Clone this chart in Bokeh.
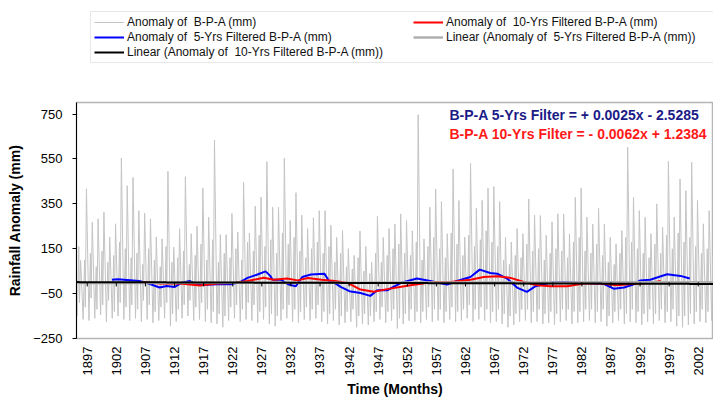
import math
from bokeh.plotting import figure
from bokeh.layouts import column
from bokeh.models import Legend, LegendItem, Label, FixedTicker, Range1d
from bokeh.embed import file_html
from bokeh.resources import INLINE

# ---------------- data ----------------
years = list(range(1897, 2007))
peak_mm = [98, 417, 268, 283, 313, 202, 261, 554, 431, 468,
           320, 308, 283, 202, 194, 495, 157, 239, 471, 217,
           250, 421, 290, 634, 213, 213, 307, 224, 446, 220,
           340, 380, 538, 335, 335, 553, 276, 400, 300, 240,
           288, 320, 320, 255, 200, 231, 150, 120, 229, 160,
           90, 294, 200, 240, 260, 305, 276, 230, 747, 194,
           335, 416, 360, 217, 505, 365, 202, 530, 330, 365,
           420, 427, 360, 200, 180, 240, 217, 372, 300, 298,
           210, 270, 306, 305, 217, 379, 421, 291, 260, 330,
           260, 200, 172, 231, 602, 379, 320, 290, 217, 350,
           246, 539, 291, 461, 409, 535, 365, 261, 320, 250]
second_mm = [160, 100, 130, 70, 140, 90, 120, 180, 150, 110,
             130, 80, 150, 100, 70, 160, 90, 110, 140, 80,
             120, 170, 100, 190, 90, 130, 110, 150, 100, 180,
             140, 210, 160, 190, 130, 220, 170, 200, 140, 110,
             150, 180, 130, 160, 90, 130, 70, 60, 110, 50,
             40, 130, 90, 120, 150, 170, 130, 120, 180, 100,
             160, 200, 150, 110, 220, 170, 120, 210, 160, 190,
             230, 180, 160, 100, 80, 120, 110, 170, 140, 150,
             100, 130, 150, 140, 110, 180, 200, 140, 130, 170,
             120, 90, 80, 130, 200, 180, 150, 130, 110, 170,
             130, 210, 150, 220, 180, 200, 160, 130, 150, 120]
trough_mm = [-150, -165, -170, -160, -145, -175, -160, -150, -165, -170,
             -160, -175, -165, -180, -170, -160, -195, -175, -160, -150,
             -170, -165, -175, -180, -185, -200, -170, -160, -175, -165,
             -170, -180, -165, -185, -195, -170, -160, -175, -180, -165,
             -170, -160, -175, -185, -170, -190, -180, -175, -200, -185,
             -190, -175, -165, -180, -170, -205, -185, -170, -175, -180,
             -165, -175, -170, -180, -165, -175, -170, -160, -175, -165,
             -170, -180, -175, -185, -200, -190, -175, -170, -180, -175,
             -185, -180, -190, -175, -170, -185, -180, -175, -170, -180,
             -175, -195, -180, -170, -185, -175, -180, -190, -175, -185,
             -170, -180, -175, -195, -200, -190, -185, -175, -180, -170]
dip_mm = [-90, -110, -70, -120, -100, -80, -130, -90, -110, -100,
          -120, -80, -100, -130, -110, -90, -140, -120, -100, -80,
          -110, -90, -120, -130, -140, -150, -110, -100, -120, -90,
          -100, -130, -110, -140, -150, -120, -100, -120, -130, -110,
          -120, -100, -130, -140, -120, -150, -130, -120, -150, -140,
          -150, -130, -110, -130, -120, -160, -140, -120, -130, -130,
          -110, -120, -120, -130, -110, -130, -120, -100, -120, -110,
          -120, -130, -120, -140, -150, -140, -120, -120, -130, -120,
          -140, -130, -140, -120, -120, -130, -130, -120, -120, -130,
          -120, -150, -130, -120, -140, -120, -130, -140, -120, -140,
          -120, -130, -120, -150, -150, -140, -130, -120, -130, -120]

blue_year = [1903.0, 1904.0, 1907.7, 1908.9, 1911.2, 1912.4, 1913.8, 1915.0, 1916.4, 1917.6,
             1919.3, 1921.1, 1923.4, 1925.1, 1926.3, 1928.0, 1929.4, 1930.2, 1930.6, 1932.0,
             1933.4, 1934.6, 1935.7, 1937.2, 1939.5, 1940.3, 1941.2, 1942.3, 1943.8, 1945.7,
             1947.4, 1948.6, 1950.3, 1952.6, 1955.4, 1957.7, 1960.6, 1962.3, 1964.6, 1966.2,
             1968.0, 1969.2, 1970.9, 1972.6, 1974.3, 1975.8, 1978.4, 1980.6, 1984.1, 1987.5,
             1989.2, 1991.0, 1992.7, 1993.8, 1995.5, 1998.4, 2000.7, 2002.3]
blue_val = [12, 14, 6, -2, -23, -16, -20, -1, 6, -8,
            -10, -8, -8, 2, 20, 35, 49, 29, 12, 12,
            -10, -17, 24, 35, 39, 6, -1, -20, -39, -47,
            -60, -35, -35, -3, 17, 6, -10, 6, 24, 57,
            42, 39, 17, -23, -42, -17, -1, 2, -3, -6,
            -28, -23, -8, 9, 12, 36, 29, 17]

red_year = [1908.3, 1911.2, 1914.7, 1918.1, 1921.1, 1923.9, 1926.3, 1929.1, 1930.8, 1933.1,
            1934.9, 1936.7, 1939.0, 1941.3, 1943.6, 1945.7, 1948.0, 1950.3, 1954.3, 1958.3,
            1961.2, 1964.6, 1966.9, 1969.2, 1971.5, 1973.8, 1976.1, 1978.4, 1981.2, 1984.1,
            1986.9, 1989.8, 1993.2, 1995.5, 1997.3]
red_val = [2, -5, -5, -14, -5, -3, 6, 21, 12, 17,
           9, 20, 12, 6, -3, -32, -42, -30, -13, 2,
           2, 12, 24, 27, 20, 2, -13, -17, -17, -5,
           -5, -13, -5, -3, 6]

# trend-line coefficients (from the equations printed on the chart)
slope5, icpt5 = 0.0025, -2.5285
slope10, icpt10 = -0.0062, 1.2384
n_months = 1320

tick_labels = list(range(1897, 2003, 5))
TICK_SHIFT = 1.75          # category-axis labels/ticks sit this far right of the data start
y_ticks = [-250, -50, 150, 350, 550, 750]

# ---------------- series construction ----------------
gx, gy = [], []
for yr, lo, sec, dip, hi in zip(years, trough_mm, second_mm, dip_mm, peak_mm):
    gx += [yr + 0.05, yr + 0.3, yr + 0.42, yr + 0.62]
    gy += [lo, sec, dip, hi]

months = list(range(1, n_months + 1))
mx = [1897 + (m - 1) / 12 for m in months]
t5 = [slope5 * m + icpt5 for m in months]
t10 = [slope10 * m + icpt10 for m in months]

tick_pos = [t + TICK_SHIFT for t in tick_labels]

FONT = "Liberation Sans"
C_GRAY, C_BLUE, C_RED, C_TREND5, C_BLACK = "#c4c4c4", "#0000ff", "#ff0000", "#b0b0b0", "#000000"

p = figure(width=713, height=302, output_backend="svg", toolbar_location=None,
           x_range=Range1d(1896.91, 2006.37), y_range=Range1d(-250, 801.6),
           min_border_left=76, min_border_right=0, min_border_top=4, min_border_bottom=62,
           background_fill_color="white", border_fill_color="white")
p.xgrid.visible = False
p.ygrid.visible = False
p.outline_line_color = "#b5b5b5"
p.outline_line_width = 1.5

p.line(gx, gy, line_color=C_GRAY, line_width=1)
p.line(blue_year, blue_val, line_color=C_BLUE, line_width=2)
p.line(red_year, red_val, line_color=C_RED, line_width=2)
p.line(mx, t5, line_color=C_TREND5, line_width=2.5)
p.line(mx, t10, line_color=C_BLACK, line_width=2)

# category-axis tick marks that sit on the zero line
p.segment(x0=tick_pos, x1=tick_pos,
          y0=[0] * len(tick_pos), y1=[-18] * len(tick_pos),
          line_color="black", line_width=1)

# axes
yax = p.yaxis[0]
yax.ticker = FixedTicker(ticks=y_ticks, minor_ticks=[])
yax.axis_line_color = "black"
yax.major_tick_out = 4
yax.major_tick_in = 0
yax.major_tick_line_color = "black"
yax.major_label_standoff = 10
yax.major_label_text_font = FONT
yax.major_label_text_font_size = "13px"
yax.major_label_text_color = "black"
yax.axis_label = "Rainfall Anomaly (mm)"
yax.axis_label_text_font = FONT
yax.axis_label_text_font_size = "14px"
yax.axis_label_text_font_style = "bold"
yax.axis_label_text_color = "black"
yax.axis_label_standoff = 7

xax = p.xaxis[0]
xax.ticker = FixedTicker(ticks=tick_pos, minor_ticks=[])
xax.major_label_overrides = {tp: str(t) for tp, t in zip(tick_pos, tick_labels)}
xax.axis_line_color = None
xax.major_tick_out = 0
xax.major_tick_in = 0
xax.major_label_orientation = math.pi / 2
xax.major_label_standoff = 8
xax.major_label_text_font = FONT
xax.major_label_text_font_size = "13px"
xax.major_label_text_color = "black"
xax.axis_label = "Time (Months)"
xax.axis_label_text_font = FONT
xax.axis_label_text_font_size = "14px"
xax.axis_label_text_font_style = "bold"
xax.axis_label_text_color = "black"
xax.axis_label_standoff = 3

# equations
p.add_layout(Label(x=1961.0, y=747, text="B-P-A  5-Yrs Filter = + 0.0025x - 2.5285",
                   text_font=FONT, text_font_size="14px", text_font_style="bold",
                   text_color="#1b1b87", text_baseline="middle"))
p.add_layout(Label(x=1961.0, y=662, text="B-P-A   10-Yrs Filter = - 0.0062x + 1.2384",
                   text_font=FONT, text_font_size="14px", text_font_style="bold",
                   text_color="#ff1a1a", text_baseline="middle"))

# ---------------- legend strip above the chart ----------------
lg = figure(width=713, height=98, output_backend="svg", toolbar_location=None,
            x_range=Range1d(0, 1), y_range=Range1d(0, 1),
            x_axis_type=None, y_axis_type=None,
            min_border=0, background_fill_color="white", border_fill_color="white")
lg.outline_line_color = None
lg.xgrid.visible = False
lg.ygrid.visible = False
# legend-key renderers (kept outside the visible range of this strip)
kx, ky = [-2, -1], [-2, -2]
k_gray = lg.line(kx, ky, line_color=C_GRAY, line_width=1)
k_blue = lg.line(kx, ky, line_color=C_BLUE, line_width=2)
k_red = lg.line(kx, ky, line_color=C_RED, line_width=2)
k_t5 = lg.line(kx, ky, line_color=C_TREND5, line_width=2.5)
k_t10 = lg.line(kx, ky, line_color=C_BLACK, line_width=2)

legend = Legend(items=[
    LegendItem(label="Anomaly of  B-P-A (mm)", renderers=[k_gray]),
    LegendItem(label="Anomaly of  5-Yrs Filtered B-P-A (mm)", renderers=[k_blue]),
    LegendItem(label="Linear (Anomaly of  10-Yrs Filtered B-P-A (mm))", renderers=[k_t10]),
    LegendItem(label="Anomaly of  10-Yrs Filtered B-P-A (mm)", renderers=[k_red]),
    LegendItem(label="Linear (Anomaly of  5-Yrs Filtered B-P-A (mm))", renderers=[k_t5]),
], location=(14, 35), ncols=2)
legend.label_text_font = FONT
legend.label_text_font_size = "12px"
legend.label_text_color = "#111111"
legend.glyph_width = 30
legend.glyph_height = 12
legend.label_height = 12
legend.label_width = 285
legend.label_standoff = 3
legend.spacing = 1
legend.padding = 3
legend.margin = 0
legend.border_line_color = "#cfcfcf"
legend.border_line_width = 1
legend.background_fill_color = "white"
legend.background_fill_alpha = 1
lg.add_layout(legend)

layout = column(lg, p, spacing=0)
open("out.html", "w").write(file_html(layout, INLINE))
